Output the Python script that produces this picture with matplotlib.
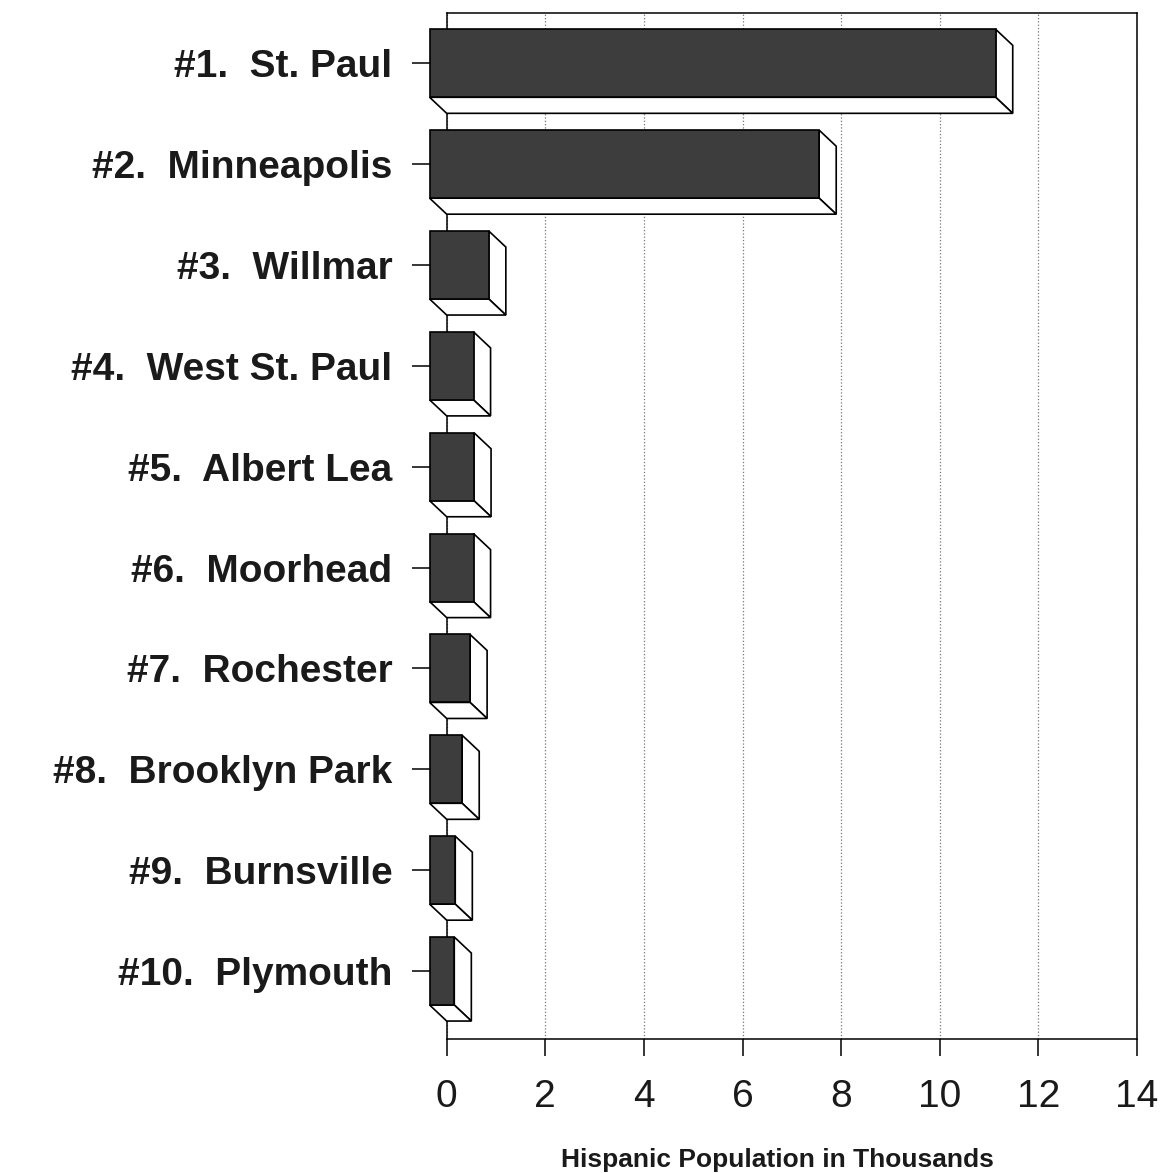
import numpy as np
import matplotlib
matplotlib.use("Agg")
import matplotlib.pyplot as plt
from matplotlib.patches import Polygon

plt.rcParams['font.family'] = ['Liberation Sans', 'DejaVu Sans']

# Data (thousands)
cities = ['#1.  St. Paul', '#2.  Minneapolis', '#3.  Willmar', '#4.  West St. Paul',
          '#5.  Albert Lea', '#6.  Moorhead', '#7.  Rochester', '#8.  Brooklyn Park',
          '#9.  Burnsville', '#10.  Plymouth']
population = [11.48, 7.9, 1.2, 0.89, 0.9, 0.89, 0.82, 0.66, 0.52, 0.5]
xticks = [0, 2, 4, 6, 8, 10, 12, 14]

fig = plt.figure(figsize=(11.73, 11.73), dpi=100)
ax = fig.add_axes([0.3808, 0.1145, 0.5885, 0.8747])

ax.set_xlim(0, 14)
ax.set_ylim(9.671, -0.502)

# 3d look: front face shifted left/up from the axis
dx = 0.346
dy = 0.159
h = 0.674
face = '#3d3d3d'

for i, v in enumerate(population):
    top = i - h / 2
    bot = i + h / 2
    front = Polygon([(-dx, top), (v - dx, top), (v - dx, bot), (-dx, bot)],
                    closed=True, facecolor=face, edgecolor='black', lw=1.2,
                    zorder=3, clip_on=False)
    side = Polygon([(v - dx, top), (v, top + dy), (v, bot + dy), (v - dx, bot)],
                   closed=True, facecolor='white', edgecolor='black', lw=1.2,
                   zorder=3, clip_on=False)
    under = Polygon([(-dx, bot), (v - dx, bot), (v, bot + dy), (0, bot + dy)],
                    closed=True, facecolor='white', edgecolor='black', lw=1.2,
                    zorder=3, clip_on=False)
    for p in (side, under, front):
        ax.add_patch(p)

ax.set_yticks(range(len(cities)))
ax.set_yticklabels(cities, fontsize=28, fontweight='bold', color='#1a1a1a')
ax.set_xticks(xticks)
ax.set_xticklabels([str(t) for t in xticks], fontsize=28, color='#1a1a1a')

ax.tick_params(axis='y', direction='out', length=25, width=1.1, pad=14)
ax.tick_params(axis='x', direction='out', length=12, width=1.1, pad=17)

ax.grid(axis='x', linestyle=':', color='#777777', linewidth=0.9)
ax.grid(axis='y', visible=False)
ax.set_axisbelow(True)

for s in ax.spines.values():
    s.set_linewidth(1.1)
    s.set_zorder(2)

ax.set_xlabel('Hispanic Population in Thousands', fontsize=19, fontweight='bold',
              color='#1a1a1a', va='center')
ax.xaxis.set_label_coords(0.4785, -0.118)

fig.savefig('out.png', dpi=100)
